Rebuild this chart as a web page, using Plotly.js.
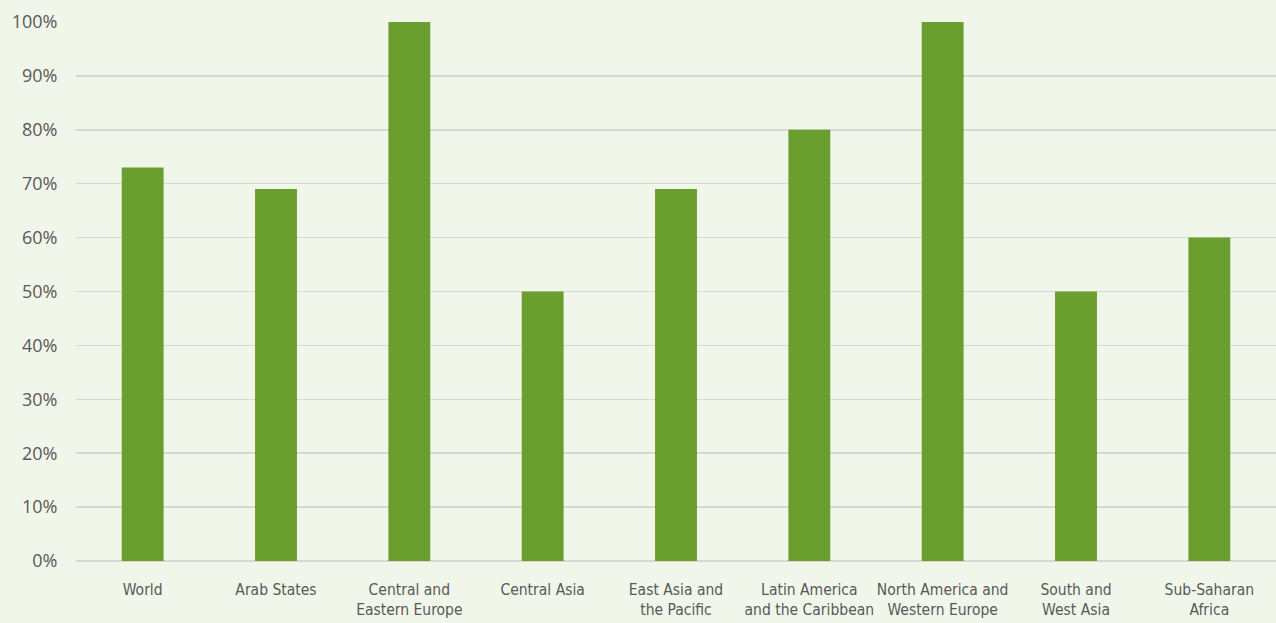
<!DOCTYPE html>
<html>
<head>
<meta charset="utf-8">
<script src="https://cdn.plot.ly/plotly-3.0.1.min.js"></script>
<style>html,body{margin:0;padding:0;overflow:hidden;background:#f0f6e9;}</style>
</head>
<body>
<div id="chart" style="width:1276px;height:623px;"></div>
<script>
const categories = ["World","Arab States","Central and<br>Eastern Europe","Central Asia","East Asia and<br>the Pacific","Latin America<br>and the Caribbean","North America and<br>Western Europe","South and<br>West Asia","Sub-Saharan<br>Africa"];
const values = [73, 69, 100, 50, 69, 80, 100, 50, 60];
const yTickVals = [0,10,20,30,40,50,60,70,80,90,100];
const yTickText = ["0%","10%","20%","30%","40%","50%","60%","70%","80%","90%","100%"];

const condensed = "'Liberation Sans Narrow', 'DejaVu Sans Condensed', 'Roboto Condensed', Roboto, sans-serif";

Plotly.newPlot('chart', [{
  type: 'bar',
  x: categories,
  y: values,
  marker: {color: '#6a9e2f'},
  hoverinfo: 'none'
}], {
  width: 1276, height: 623,
  margin: {l: 76, r: 0, t: 22, b: 62},
  paper_bgcolor: '#f0f6e9',
  plot_bgcolor: '#f0f6e9',
  bargap: 0.686,
  showlegend: false,
  xaxis: {
    type: 'category',
    range: [-0.5, 8.5],
    showgrid: false,
    showline: false,
    zeroline: false,
    ticks: 'outside', ticklen: 14, tickcolor: 'rgba(0,0,0,0)',
    tickfont: {family: condensed, size: 15.5, color: '#595959'},
    tickangle: 0
  },
  yaxis: {
    range: [0, 100],
    tickvals: yTickVals,
    ticktext: yTickText,
    showgrid: true,
    gridcolor: '#d6d9d3',
    gridwidth: 1.5,
    zeroline: true,
    zerolinecolor: '#d6d9d3',
    zerolinewidth: 1.5,
    showline: false,
    ticks: 'outside', ticklen: 14, tickcolor: 'rgba(0,0,0,0)',
    tickfont: {family: "'Open Sans', 'Noto Sans', sans-serif", size: 18, color: '#595959'}
  }
}, {displayModeBar: false, staticPlot: true});
</script>
</body>
</html>
